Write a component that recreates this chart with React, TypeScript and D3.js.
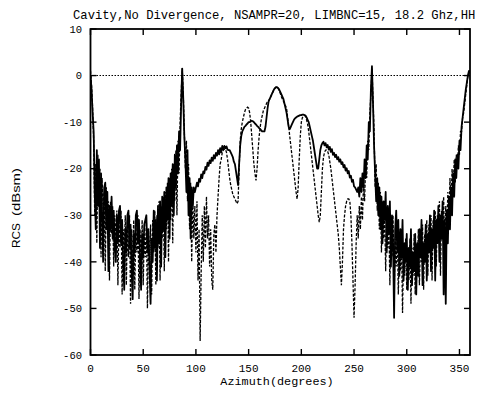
import React from 'react';
import * as d3 from 'd3';

const chartTitle = 'Cavity,No Divergence, NSAMPR=20, LIMBNC=15, 18.2 Ghz,HH';
const xTickValues = [0, 50, 100, 150, 200, 250, 300, 350];
const yTickValues = [10, 0, -10, -20, -30, -40, -50, -60];
const azimuthStepDeg = 1;

// RCS (dBsm) of the solid trace, one value per degree 0..360
const solidRcs = [
  0, -3, -8, -12, -25, -33, -16, -28, -18, -37, -21,
  -30, -40, -24, -23, -33, -25, -42, -28, -33, -26,
  -35, -29, -37, -40, -30, -36, -29, -28, -36, -31,
  -40, -46, -33, -38, -30, -29, -37, -32, -42, -48,
  -34, -38, -30, -29, -36, -31, -40, -46, -34, -39,
  -32, -31, -30, -38, -33, -42, -49, -35, -40, -29,
  -37, -31, -44, -28, -36, -27, -41, -26, -33, -25,
  -39, -24, -31, -22, -35, -21, -28, -19, -30, -17,
  -24, -15, -21, -12, -16, -6, 1.5, -5, -13, -18,
  -25, -16, -30, -22, -35, -24, -28, -24, -25, -24,
  -23, -23.8, -22.2, -22.8, -21.2, -22, -20.6, -21, -19.6, -20.2,
  -18.7, -19.4, -18.2, -18.8, -17.6, -18.3, -17.1, -17.8, -16.6, -17.2,
  -16, -16.9, -15.6, -16.5, -15.1, -15.9, -15.1, -15.6, -15.2, -15.9,
  -16, -16, -16.5, -17, -17.5, -18.5, -19, -20.5, -22, -23.5,
  -19, -15, -13, -12, -11.5, -11, -10.8, -10.5, -10.3, -10,
  -10, -9.8, -9.7, -9.8, -10, -10.3, -10.5, -10.8, -11, -11.3,
  -11.5, -11.8, -12, -12, -12, -11, -9, -7, -5.5, -5,
  -4.5, -4, -3.5, -3, -2.7, -2.5, -2.5, -2.7, -3, -3.5,
  -4, -4.5, -5, -6, -7, -8, -9.5, -11, -11.5, -11,
  -10.5, -10, -9.5, -9.2, -9, -8.8, -8.7, -8.6, -8.5, -8.5,
  -8.4, -8.4, -8.5, -8.6, -9, -9.5, -10, -11, -12, -13,
  -14, -15.5, -17, -18.5, -20, -20, -18, -16, -15, -14.5,
  -14.2, -15, -14.5, -15.4, -14.9, -15.9, -15.3, -16.4, -15.8, -17,
  -16.6, -17.5, -17, -18, -17.5, -18.5, -18, -19, -18.6, -19.7,
  -19.2, -20.4, -19.9, -21, -20.5, -21.9, -21.5, -22.8, -22.4, -23.8,
  -24, -24.5, -25, -24, -26, -22, -25, -21, -24, -18,
  -22, -15, -18, -10, -12, -3, 2, -6, -15, -21,
  -27, -22, -30, -24, -33, -26, -36, -27, -31, -25,
  -38, -28, -34, -27, -41, -30, -36, -52, -33, -29,
  -38, -31, -43, -33, -39, -31, -44, -36, -40, -34,
  -46, -37, -41, -33, -45, -38, -42, -34, -47, -36,
  -43, -33, -39, -31, -45, -36, -40, -32, -44, -34,
  -38, -30, -42, -33, -37, -29, -44, -31, -36, -28,
  -40, -30, -35, -27, -47, -31, -49, -29, -36, -26,
  -33, -24, -30, -21, -26, -18, -22, -17, -20, -14,
  -16, -11, -9, -7, -5, -3, -1.5, 0, 1, 1,
];

// RCS (dBsm) of the dashed trace, one value per degree 0..360
const dashedRcs = [
  1, -2, -7, -14, -30, -19, -36, -17, -25, -20, -39,
  -22, -29, -25, -42, -24, -31, -27, -44, -27, -34,
  -28, -41, -30, -36, -29, -45, -31, -37, -29, -47,
  -33, -38, -30, -45, -31, -39, -30, -49, -33, -40,
  -31, -46, -32, -38, -30, -48, -33, -41, -31, -45,
  -34, -39, -31, -50, -34, -41, -32, -47, -31, -38,
  -29, -45, -30, -37, -27, -44, -28, -35, -26, -42,
  -25, -33, -23, -40, -22, -31, -20, -36, -19, -27,
  -16, -30, -14, -21, -10, -4, 1.5, -4, -12, -20,
  -14, -27, -19, -33, -23, -40, -26, -35, -28, -38,
  -27, -44, -33, -57, -42, -30, -40, -28, -37, -26,
  -35, -30, -41, -33, -44, -46, -34, -32, -38, -30,
  -26, -22, -19, -18, -16.5, -16, -15.8, -15.8, -16.5, -18,
  -20, -22, -23.5, -24.5, -25.5, -26, -26.5, -27, -27.5, -27,
  -20, -14, -11.5, -10, -9, -8, -7.3, -7, -6.8, -7,
  -8, -10, -13, -16, -19, -21, -22.5, -20, -16, -13,
  -11, -9.5, -8.5, -7.5, -7, -6.5, -6, -5.5, -5.5, -5,
  -4.5, -4, -3.5, -3, -2.7, -2.5, -2.5, -2.7, -3.2, -3.8,
  -4.5, -5, -5.5, -6, -6.5, -7, -9, -11, -13, -15,
  -17, -19, -21, -23, -25, -26.5, -24, -18, -13, -10,
  -9, -8.8, -8.6, -8.7, -9.5, -10.5, -12, -14, -16, -18,
  -20, -22, -24, -26, -28, -30, -31.5, -30, -25, -20,
  -17.5, -16.5, -16, -16, -16.3, -17, -18.5, -20, -22, -24,
  -26, -28, -30, -32, -34, -37, -41, -45, -40, -33,
  -30, -28, -27, -26.5, -26.5, -27, -30, -36, -44, -52,
  -45, -36, -30, -35, -28, -33, -26, -31, -23, -27,
  -19, -22, -14, -16, -8, -4, 1.5, -5, -12, -24,
  -19, -29, -23, -33, -25, -38, -27, -35, -29, -42,
  -30, -37, -31, -45, -32, -39, -30, -48, -35, -41,
  -33, -47, -36, -42, -34, -51, -37, -43, -35, -46,
  -37, -44, -35, -49, -37, -43, -34, -47, -36, -41,
  -33, -45, -35, -40, -32, -46, -34, -39, -31, -43,
  -32, -37, -30, -44, -31, -36, -29, -41, -30, -35,
  -27, -43, -29, -34, -26, -38, -28, -33, -25, -31,
  -22, -28, -20, -25, -18, -23, -17, -20, -15, -17,
  -12, -12, -9, -8, -6, -4, -2, 0, 0.5, 1,
];

const monoFont = '"Liberation Mono", "DejaVu Sans Mono", monospace';
const sansFont = '"Liberation Sans", Arial, sans-serif';

export default function App() {
  const x = d3.scaleLinear().domain([0, 360]).range([90.5, 470]);
  const y = d3.scaleLinear().domain([-60, 10]).range([355, 29]);
  const line = d3
    .line<number>()
    .x((_, i) => x(i * azimuthStepDeg))
    .y((d) => y(d));

  const [x0, x1] = x.range();
  const [yb, yt] = y.range();

  return (
    <svg
      width={488}
      height={393}
      style={{ position: 'absolute', left: 0, top: 0, background: '#fff' }}
    >
      <rect x={0} y={0} width={488} height={393} fill="#fff" />
      <text x={73} y={19} fontFamily={monoFont} fontSize={12.2} fill="#000">
        {chartTitle}
      </text>

      {/* zero reference dotted line */}
      <line
        x1={x0}
        x2={x1}
        y1={y(0)}
        y2={y(0)}
        stroke="#000"
        strokeWidth={1.1}
        strokeDasharray="1.5,1.5"
      />

      <defs>
        <clipPath id="plotClip">
          <rect x={x0} y={yt - 2} width={x1 - x0} height={yb - yt + 2} />
        </clipPath>
      </defs>

      <g clipPath="url(#plotClip)">
        <path
          d={line(dashedRcs) || ''}
          fill="none"
          stroke="#000"
          strokeWidth={1.3}
          strokeDasharray="3,1.6"
        />
        <path
          d={line(solidRcs) || ''}
          fill="none"
          stroke="#000"
          strokeWidth={1.8}
          strokeLinejoin="round"
        />
      </g>

      {/* frame */}
      <rect
        x={x0}
        y={yt}
        width={x1 - x0}
        height={yb - yt}
        fill="none"
        stroke="#000"
        strokeWidth={1.8}
      />

      {/* x ticks */}
      {xTickValues.map((t) => (
        <g key={'xt' + t}>
          <line x1={x(t)} x2={x(t)} y1={yb} y2={yb - 6} stroke="#000" strokeWidth={1.4} />
          <line x1={x(t)} x2={x(t)} y1={yt} y2={yt + 6} stroke="#000" strokeWidth={1.4} />
          <text
            x={x(t)}
            y={372}
            textAnchor="middle"
            fontFamily={monoFont}
            fontSize={11}
            fill="#000"
          >
            {t}
          </text>
        </g>
      ))}

      {/* y ticks */}
      {yTickValues.map((t) => (
        <g key={'yt' + t}>
          <line x1={x0} x2={x0 + 6} y1={y(t)} y2={y(t)} stroke="#000" strokeWidth={1.4} />
          <line x1={x1} x2={x1 - 6} y1={y(t)} y2={y(t)} stroke="#000" strokeWidth={1.4} />
          <text
            x={82}
            y={y(t)}
            dy="0.35em"
            textAnchor="end"
            fontFamily={monoFont}
            fontSize={10.5}
            fill="#000"
          >
            {t}
          </text>
        </g>
      ))}

      <text
        x={277}
        y={385}
        textAnchor="middle"
        fontFamily={monoFont}
        fontSize={11.8}
        fill="#000"
      >
        Azimuth(degrees)
      </text>

      <g transform="translate(20,207.5) rotate(-90)">
        <text
          x={-28}
          y={0}
          textAnchor="middle"
          fontFamily={sansFont}
          fontSize={10}
          fill="#000"
          textLength={25}
          lengthAdjust="spacingAndGlyphs"
        >
          RCS
        </text>
        <text
          x={15.5}
          y={0}
          textAnchor="middle"
          fontFamily={sansFont}
          fontSize={10}
          fill="#000"
          textLength={48}
          lengthAdjust="spacingAndGlyphs"
        >
          (dBsm)
        </text>
      </g>
    </svg>
  );
}
